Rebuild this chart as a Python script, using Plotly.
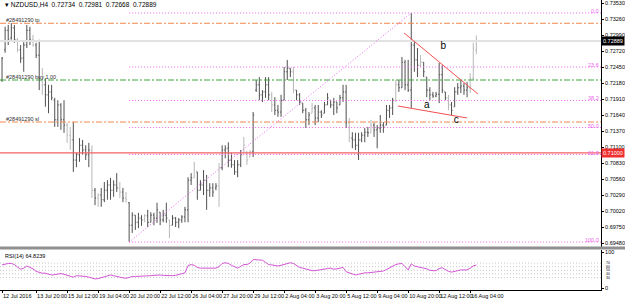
import plotly.graph_objects as go

# ---------------- data ----------------
bar_index = list(range(154))
opens = [0.7223,0.7274,0.7307,0.7294,0.7311,0.7291,0.7274,0.7260,0.7282,0.7307,
         0.7291,0.7282,0.7265,0.7223,0.7215,0.7198,0.7203,0.7189,0.7156,0.7181,
         0.7156,0.7147,0.7130,0.7122,0.7088,0.7097,0.7113,0.7105,0.7097,0.7105,
         0.7037,0.7024,0.7029,0.7021,0.7037,0.7046,0.7037,0.7046,0.7041,0.7034,
         0.7024,0.7016,0.6978,0.6995,0.6983,0.6990,0.6987,0.6994,0.6983,0.6995,
         0.6990,0.7000,0.6987,0.6995,0.6987,0.6978,0.6990,0.6983,0.6987,0.6992,
         0.7004,0.7054,0.7058,0.7068,0.7037,0.7046,0.7054,0.7037,0.7041,0.7041,
         0.7044,0.7075,0.7105,0.7108,0.7088,0.7080,0.7068,0.7080,0.7105,0.7102,
         0.7093,0.7102,0.7206,0.7215,0.7198,0.7203,0.7215,0.7198,0.7181,0.7172,
         0.7169,0.7189,0.7237,0.7243,0.7237,0.7206,0.7198,0.7184,0.7172,0.7156,
         0.7167,0.7176,0.7159,0.7169,0.7167,0.7181,0.7189,0.7181,0.7186,0.7181,
         0.7193,0.7203,0.7152,0.7125,0.7122,0.7113,0.7122,0.7130,0.7135,0.7134,
         0.7147,0.7139,0.7142,0.7147,0.7147,0.7172,0.7176,0.7189,0.7215,0.7210,
         0.7253,0.7215,0.7206,0.7282,0.7257,0.7248,0.7253,0.7228,0.7206,0.7198,
         0.7196,0.7199,0.7232,0.7203,0.7193,0.7181,0.7178,0.7203,0.7210,0.7213,
         0.7206,0.7210,0.7226,0.72734]
highs = [0.7262,0.7313,0.7316,0.7319,0.7316,0.7294,0.7282,0.7287,0.7316,0.7313,
         0.7299,0.7286,0.7291,0.7243,0.7226,0.7215,0.7215,0.7193,0.7189,0.7184,
         0.7189,0.7151,0.7144,0.7152,0.7100,0.7125,0.7122,0.7113,0.7117,0.7113,
         0.7041,0.7032,0.7041,0.7051,0.7054,0.7058,0.7054,0.7066,0.7051,0.7041,
         0.7034,0.7017,0.7000,0.6995,0.6999,0.6995,0.6997,0.7004,0.7000,0.6999,
         0.7016,0.7000,0.7004,0.7016,0.6987,0.6995,0.6992,0.6990,0.6995,0.7009,
         0.7059,0.7066,0.7085,0.7068,0.7054,0.7071,0.7063,0.7049,0.7049,0.7049,
         0.7083,0.7113,0.7113,0.7118,0.7100,0.7088,0.7088,0.7105,0.7127,0.7102,
         0.7105,0.7169,0.7223,0.7228,0.7206,0.7228,0.7228,0.7203,0.7194,0.7181,
         0.7198,0.7245,0.7257,0.7243,0.7245,0.7206,0.7201,0.7184,0.7176,0.7169,
         0.7184,0.7181,0.7181,0.7172,0.7186,0.7201,0.7189,0.7193,0.7186,0.7198,
         0.7215,0.7215,0.7159,0.7135,0.7134,0.7134,0.7135,0.7142,0.7144,0.7156,
         0.7151,0.7147,0.7164,0.7152,0.7181,0.7181,0.7193,0.7223,0.7223,0.7262,
         0.7257,0.7257,0.7336,0.7287,0.7277,0.7265,0.7253,0.7228,0.7211,0.7203,
         0.7203,0.7252,0.7248,0.7203,0.7198,0.7186,0.7211,0.7218,0.7223,0.7218,
         0.7220,0.7235,0.7286,0.72981]
lows = [0.7220,0.7269,0.7282,0.7291,0.7286,0.7270,0.7252,0.7237,0.7277,0.7282,
        0.7279,0.7260,0.7206,0.7198,0.7178,0.7167,0.7189,0.7144,0.7144,0.7139,
        0.7134,0.7117,0.7105,0.7068,0.7076,0.7085,0.7097,0.7088,0.7076,0.7024,
        0.7012,0.7009,0.7009,0.7017,0.7021,0.7021,0.7026,0.7034,0.7024,0.7017,
        0.7016,0.6950,0.6965,0.6970,0.6973,0.6977,0.6983,0.6975,0.6983,0.6978,
        0.6982,0.6978,0.6983,0.6982,0.6956,0.6978,0.6975,0.6973,0.6982,0.6983,
        0.6983,0.7046,0.7058,0.7021,0.7037,0.7029,0.7004,0.7026,0.7026,0.7037,
        0.7009,0.7071,0.7091,0.7076,0.7075,0.7063,0.7059,0.7076,0.7100,0.7080,
        0.7093,0.7093,0.7203,0.7189,0.7186,0.7193,0.7189,0.7169,0.7164,0.7161,
        0.7161,0.7189,0.7223,0.7228,0.7201,0.7189,0.7181,0.7167,0.7142,0.7147,
        0.7167,0.7147,0.7152,0.7159,0.7167,0.7181,0.7176,0.7164,0.7167,0.7181,
        0.7186,0.7142,0.7118,0.7108,0.7105,0.7088,0.7118,0.7118,0.7127,0.7134,
        0.7127,0.7108,0.7134,0.7134,0.7147,0.7159,0.7164,0.7186,0.7203,0.7210,
        0.7206,0.7203,0.7176,0.7237,0.7228,0.7245,0.7228,0.7194,0.7189,0.7193,
        0.7194,0.7184,0.7201,0.7189,0.7172,0.7164,0.7178,0.7198,0.7201,0.7198,
        0.7194,0.7201,0.7223,0.72668]
closes = [0.7260,0.7307,0.7291,0.7311,0.7291,0.7274,0.7260,0.7282,0.7307,0.7291,
          0.7282,0.7265,0.7223,0.7215,0.7198,0.7203,0.7193,0.7156,0.7181,0.7156,
          0.7147,0.7130,0.7122,0.7088,0.7097,0.7113,0.7105,0.7097,0.7105,0.7037,
          0.7024,0.7029,0.7021,0.7037,0.7046,0.7037,0.7046,0.7041,0.7034,0.7024,
          0.7021,0.6978,0.6995,0.6983,0.6990,0.6987,0.6994,0.6983,0.6995,0.6990,
          0.7004,0.6987,0.6995,0.6990,0.6978,0.6990,0.6983,0.6987,0.6992,0.7004,
          0.7054,0.7058,0.7071,0.7037,0.7046,0.7054,0.7037,0.7041,0.7034,0.7044,
          0.7075,0.7105,0.7108,0.7088,0.7080,0.7068,0.7080,0.7097,0.7113,0.7088,
          0.7102,0.7164,0.7215,0.7198,0.7203,0.7215,0.7198,0.7181,0.7172,0.7169,
          0.7189,0.7237,0.7243,0.7237,0.7206,0.7198,0.7186,0.7172,0.7156,0.7164,
          0.7176,0.7159,0.7169,0.7164,0.7181,0.7193,0.7181,0.7186,0.7176,0.7193,
          0.7203,0.7152,0.7125,0.7122,0.7113,0.7122,0.7130,0.7135,0.7134,0.7147,
          0.7139,0.7142,0.7147,0.7144,0.7172,0.7176,0.7189,0.7215,0.7210,0.7253,
          0.7215,0.7206,0.7282,0.7257,0.7248,0.7253,0.7237,0.7206,0.7198,0.7196,
          0.7199,0.7232,0.7206,0.7193,0.7181,0.7172,0.7203,0.7210,0.7213,0.7206,
          0.7210,0.7226,0.7277,0.72889]
# bars drawn in light grey on the chart (all others dark grey)
light_bars = [5,10,13,21,22,29,31,38,40,46,54,62,70,78,79,80,87,94,100,112,119,127,135,144,151,152,153]

rsi_values = [65,68,69,69,66,59,53,56,62,58,54,47,44,42,42,40,37,38,39,41,
              39,36,32,31,35,35,35,33,31,28,26,27,29,32,34,37,35,34,31,29,
              28,30,33,33,33,34,34,34,35,36,37,37,36,35,35,35,36,38,41,43,
              63,66,64,58,56,56,56,56,56,56,60,69,71,69,64,60,56,61,66,66,
              70,80,80,80,78,72,66,65,63,62,64,67,70,71,69,63,58,56,53,50,
              49,49,51,52,53,55,56,53,54,57,58,46,43,40,37,39,42,43,43,44,
              46,45,46,48,52,57,62,66,68,69,60,51,68,62,60,57,56,54,50,49,
              49,55,57,52,47,45,46,49,51,51,51,56,62,64.8239]

x_tick_index = [0, 11, 21, 31, 41, 51, 61, 71, 81, 91, 101, 111, 121, 131, 141, 151]
x_tick_labels = ["12 Jul 2016", "13 Jul 20:00", "15 Jul 12:00", "19 Jul 04:00", "20 Jul 20:00",
                 "22 Jul 12:00", "26 Jul 04:00", "27 Jul 20:00", "29 Jul 12:00", "2 Aug 04:00",
                 "3 Aug 20:00", "5 Aug 12:00", "9 Aug 04:00", "10 Aug 20:00", "12 Aug 12:00",
                 "16 Aug 04:00"]
price_ticks = [0.69480, 0.69750, 0.70020, 0.70290, 0.70560, 0.70830, 0.71100, 0.71370,
               0.71640, 0.71910, 0.72180, 0.72450, 0.72720, 0.72990, 0.73260, 0.73530]

fib_low_index, fib_low = 41, 0.69497
fib_high_index, fib_high = 132, 0.73362
fib_ratios = [0.0, 23.6, 38.2, 50.0, 61.8, 100.0]

order_ticket = "#28491290"
order_tp, order_buy, order_sl = 0.73188, 0.72231, 0.71522
hline_red = 0.71000
bid_price = 0.72889

trend_upper_x, trend_upper_y = [129.7, 153.5], [0.73024, 0.71995]
trend_lower_x, trend_lower_y = [127.7, 150.0], [0.71792, 0.71590]
wave_labels = ["a", "b", "c"]
wave_x = [137.0, 142.3, 146.5]
wave_y = [0.71809, 0.72788, 0.71556]

rsi_levels = [70, 60, 50, 40, 30]
rsi_axis_ends = [100, 0]

title_text = "NZDUSD,H4  0.72734  0.72981  0.72668  0.72889"
rsi_title = "RSI(14) 64.8239"

# ---------------- figure ----------------
FONT = "Liberation Sans"
DARK, LIGHT = "#505050", "#b8b8b8"
FIB_C = "#ee66ee"
fig = go.Figure()
xr = [-0.65, 193.2]

def ohlc_subset(idx, color):
    fig.add_trace(go.Ohlc(
        x=idx, open=[opens[i] for i in idx], high=[highs[i] for i in idx],
        low=[lows[i] for i in idx], close=[closes[i] for i in idx],
        increasing=dict(line=dict(color=color, width=1)),
        decreasing=dict(line=dict(color=color, width=1)),
        tickwidth=0.33, xaxis="x", yaxis="y", showlegend=False, hoverinfo="skip"))

def hline(y, color, dash, width=1, x0=xr[0]):
    fig.add_trace(go.Scatter(x=[x0, xr[1]], y=[y, y], mode="lines",
                             line=dict(color=color, width=width, dash=dash),
                             xaxis="x", yaxis="y", showlegend=False, hoverinfo="skip"))

hline(bid_price, "#e2e2e2", "solid", 2)
hline(hline_red, "#f26262", "solid", 1.2)
hline(order_tp, "#f5894e", "6px,2px,2px,2px")
hline(order_sl, "#f5894e", "6px,2px,2px,2px")
hline(order_buy, "#3aaa3a", "6px,2px,2px,2px")

fib_levels = [fib_high - r / 100.0 * (fib_high - fib_low) for r in fib_ratios]
for lv in fib_levels:
    hline(lv, FIB_C, "1px,2px", 1, fib_low_index)
fig.add_trace(go.Scatter(x=[fib_low_index, fib_high_index], y=[fib_low, fib_high], mode="lines",
                         line=dict(color=FIB_C, width=1, dash="1px,2px"),
                         xaxis="x", yaxis="y", showlegend=False, hoverinfo="skip"))

ohlc_subset(light_bars, LIGHT)
ohlc_subset([i for i in bar_index if i not in light_bars], DARK)

for tx, ty in [(trend_upper_x, trend_upper_y), (trend_lower_x, trend_lower_y)]:
    fig.add_trace(go.Scatter(x=tx, y=ty, mode="lines", line=dict(color="#f25050", width=1),
                             xaxis="x", yaxis="y", showlegend=False, hoverinfo="skip"))

fig.add_trace(go.Scatter(x=wave_x, y=wave_y, mode="text", text=wave_labels,
                         textfont=dict(family=FONT, size=10, color="#000000"),
                         xaxis="x", yaxis="y", showlegend=False, hoverinfo="skip"))

# RSI
for lv in rsi_levels:
    fig.add_trace(go.Scatter(x=xr, y=[lv, lv], mode="lines",
                             line=dict(color="#c8c8c8", width=1, dash="1px,2px"),
                             xaxis="x2", yaxis="y2", showlegend=False, hoverinfo="skip"))
fig.add_trace(go.Scatter(x=bar_index, y=rsi_values, mode="lines",
                         line=dict(color="#d455d4", width=1),
                         xaxis="x2", yaxis="y2", showlegend=False, hoverinfo="skip"))

small = dict(family=FONT, size=5.5, color="#000000")
ann = []
for r, lv in zip(fib_ratios, fib_levels):
    ann.append(dict(x=1, xref="paper", xanchor="right", y=lv, yref="y", yanchor="bottom",
                    yshift=-3, text="%.1f" % r, showarrow=False,
                    font=dict(family=FONT, size=5.5, color=FIB_C)))
for lbl, yv in [("tp", order_tp), ("buy 1.00", order_buy), ("sl", order_sl)]:
    ann.append(dict(x=0.007, xref="paper", xanchor="left", y=yv, yref="y", yanchor="bottom",
                    yshift=-2, text=order_ticket + " " + lbl, showarrow=False,
                    font=dict(family=FONT, size=5.5, color="#303030")))
ann.append(dict(x=1, xref="paper", xanchor="left", y=bid_price, yref="y", text="%.5f" % bid_price,
                showarrow=False, bgcolor="#000000", font=dict(family=FONT, size=5.5, color="#ffffff"),
                borderpad=1, xshift=0))
ann.append(dict(x=1, xref="paper", xanchor="left", y=hline_red, yref="y", text="%.5f" % hline_red,
                showarrow=False, bgcolor="#f03030", font=dict(family=FONT, size=5.5, color="#ffffff"),
                borderpad=1, xshift=0))
ann.append(dict(x=0.005, xref="paper", xanchor="left", y=1, yref="paper", yanchor="top",
                text="\u25be " + title_text, showarrow=False,
                font=dict(family=FONT, size=6.5, color="#000000"), yshift=1))
ann.append(dict(x=0.005, xref="paper", xanchor="left", y=0.1379, yref="paper", yanchor="top",
                text=rsi_title, showarrow=False, font=small, yshift=-1))
# crowded RSI level labels, drawn small as on the terminal
for lv in rsi_levels:
    ann.append(dict(x=1, xref="paper", xanchor="left", xshift=4, y=lv, yref="y2",
                    text=str(lv), showarrow=False, font=dict(family=FONT, size=3.5, color="#000000"),
                    borderpad=0))

shapes = [
    dict(type="line", xref="paper", yref="paper", x0=0, x1=1.04, y0=0.1448, y1=0.1448,
         line=dict(color="#909090", width=3)),
]

fig.update_layout(
    width=625, height=301, margin=dict(l=0, r=24, t=0, b=11, autoexpand=False),
    paper_bgcolor="#ffffff", plot_bgcolor="#ffffff",
    showlegend=False, annotations=ann, shapes=shapes,
    xaxis=dict(domain=[0, 1], range=xr, showticklabels=False, showgrid=False, zeroline=False,
               rangeslider=dict(visible=False), anchor="y", showline=False, automargin=False),
    yaxis=dict(domain=[0.1483, 1], range=[0.69413, 0.73581], side="right", tickvals=price_ticks,
               tickformat=".5f", tickfont=small, showgrid=False, zeroline=False, ticks="outside",
               ticklen=2, tickcolor="#000000", showline=True, linecolor="#000000", linewidth=1,
               anchor="x", automargin=False, ticklabeloverflow="allow"),
    xaxis2=dict(domain=[0, 1], range=xr, tickvals=x_tick_index, ticktext=x_tick_labels,
                tickfont=small, ticks="outside", ticklen=2, tickcolor="#000000", tickangle=0,
                ticklabelposition="outside right", showgrid=False, zeroline=False,
                showline=True, linecolor="#000000", linewidth=1, anchor="y2", automargin=False,
                ticklabeloverflow="allow"),
    yaxis2=dict(domain=[0, 0.1379], range=[-4.7, 106.4], side="right", tickvals=rsi_axis_ends,
                tickfont=small, showgrid=False, zeroline=False, ticks="outside", ticklen=2,
                tickcolor="#000000", showline=True, linecolor="#000000", linewidth=1,
                anchor="x2", automargin=False, ticklabeloverflow="allow"),
)
fig.write_html("out.html")
